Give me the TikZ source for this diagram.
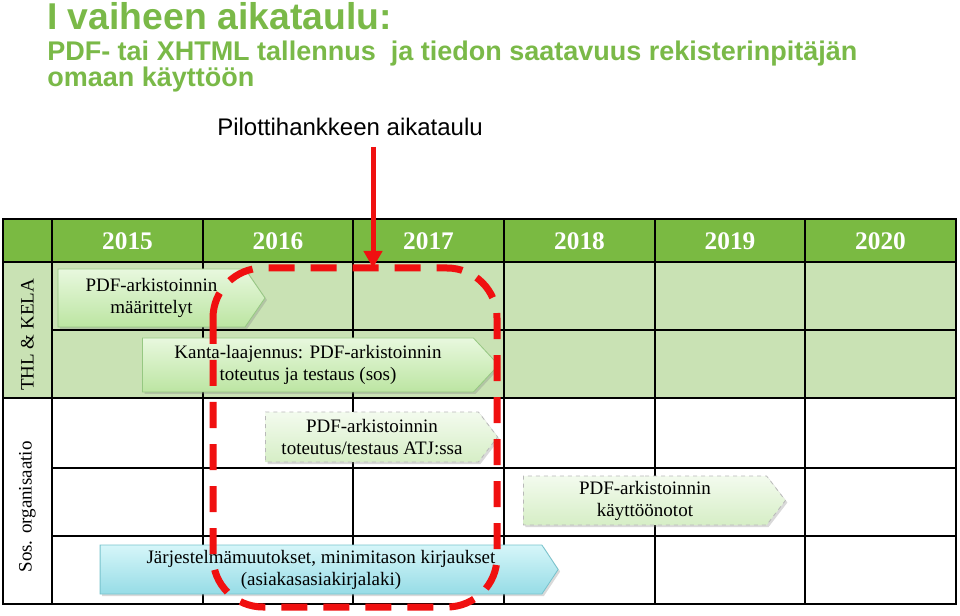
\documentclass[tikz,border=0pt]{standalone}
\usepackage{fontspec}
\setmainfont{Liberation Serif}
\newfontfamily\arialfont{Liberation Sans}
\usetikzlibrary{positioning, shapes.symbols, shadows, arrows.meta}

\newlength{\px}\setlength{\px}{0.75pt}
\definecolor{hdrgreen}{RGB}{122,186,66}
\definecolor{rowgreen}{RGB}{201,226,180}
\definecolor{titlegreen}{RGB}{122,185,72}
\definecolor{tasktop}{RGB}{232,248,222}
\definecolor{taskbot}{RGB}{188,229,162}
\definecolor{taskedge}{RGB}{150,200,130}
\definecolor{plantop}{RGB}{243,251,238}
\definecolor{planbot}{RGB}{214,238,198}
\definecolor{planedge}{RGB}{185,185,185}
\definecolor{lawtop}{RGB}{214,246,249}
\definecolor{lawbot}{RGB}{150,220,230}
\definecolor{lawedge}{RGB}{120,195,205}
\definecolor{pilotred}{RGB}{240,16,16}

\begin{document}
\begin{tikzpicture}[x=\px, y=-\px,
      grid/.style={line width=1.5\px, draw=black},
      yearhdr/.style={font=\fontsize{19}{21}\selectfont\bfseries, text=white},
      lane/.style={rotate=90, font=\fontsize{14.25}{16}\selectfont},
      task/.style={signal, signal to=east, signal from=nowhere, signal pointer angle=105,
        align=center, inner sep=1pt, font=\fontsize{14.25}{16.5}\selectfont,
        draw=taskedge, line width=0.6pt, top color=tasktop, bottom color=taskbot,
        drop shadow={shadow xshift=1.5pt, shadow yshift=-1.5pt, opacity=0.3}},
      plan/.style={task, dashed, draw=planedge, top color=plantop, bottom color=planbot},
      law/.style={task, draw=lawedge, top color=lawtop, bottom color=lawbot},
      redbox/.style={draw=pilotred, line width=7\px, dash pattern=on 26\px off 16\px, rounded corners=50\px}]

      \useasboundingbox (0,0) rectangle (960,616);

      % titles
      \node[anchor=base west, inner sep=0pt, text=titlegreen, font=\arialfont\bfseries\fontsize{28}{30}\selectfont] (title) at (47,30) {I vaiheen aikataulu:};
      \node[anchor=base west, inner sep=0pt, text=titlegreen, font=\arialfont\bfseries\fontsize{20.25}{20}\selectfont] (sub1) at (47,61) {PDF- tai XHTML tallennus \ ja tiedon saatavuus rekisterinpitäjän};
      \node[anchor=base west, inner sep=0pt, text=titlegreen, font=\arialfont\bfseries\fontsize{20.25}{20}\selectfont] (sub2) at (47,87) {omaan käyttöön};
      \node[anchor=base west, inner sep=0pt, font=\arialfont\fontsize{18}{20}\selectfont] (pilot) at (217,136) {Pilottihankkeen aikataulu};

      % table
      \fill[hdrgreen] (3,219) rectangle (956,262);
      \fill[rowgreen] (3,262) rectangle (956,398);
      \draw[grid] (3,219) rectangle (956,604);
      \draw[grid] (3,262) -- (956,262);
      \draw[grid] (3,398) -- (956,398);
      \draw[grid] (52,330) -- (956,330);
      \draw[grid] (52,468) -- (956,468);
      \draw[grid] (52,536) -- (956,536);
      \foreach \c in {52,203,353,504,655,805}
        \draw[grid] (\c,219) -- (\c,604);

      \node[yearhdr] (y2015) at (127.5,241) {2015};
      \node[yearhdr] (y2016) at (278,241) {2016};
      \node[yearhdr] (y2017) at (428.5,241) {2017};
      \node[yearhdr] (y2018) at (579.5,241) {2018};
      \node[yearhdr] (y2019) at (730,241) {2019};
      \node[yearhdr] (y2020) at (880.5,241) {2020};

      \node[lane] (thl) at (27.5,335) {THL \& KELA};
      \node[lane] (sos) at (27.5,507) {Sos. organisaatio};

      % tasks
      \node[task, minimum width=207\px, minimum height=58\px, signal pointer angle=111] (spec) at (151.5,298) {PDF-arkistoinnin\\määrittelyt};
      \node[task, minimum width=356\px, minimum height=54\px, signal pointer angle=94] (kanta) at (308,365) {Kanta-laajennus: PDF-arkistoinnin\\toteutus ja testaus (sos)};
      \node[plan, minimum width=232\px, minimum height=50\px] (atj) at (372,437) {PDF-arkistoinnin\\toteutus/testaus ATJ:ssa};
      \node[plan, minimum width=262\px, minimum height=49\px] (deploy) at (645,500.5) {PDF-arkistoinnin\\käyttöönotot};
      \node[law, minimum width=458\px, minimum height=49\px, signal pointer angle=113] (system) at (321,569.5) {Järjestelmämuutokset, minimitason kirjaukset\\(asiakasasiakirjalaki)};

      % pilot frame
      \draw[redbox] (213,268) rectangle (497,607);
      \coordinate (pilottop) at (373,147);
      \coordinate (pilottip) at (373,268);
      \draw[pilotred, line width=5\px, -{Triangle[width=13.5pt, length=12.75pt]}] (pilottop) -- (pilottip);
\end{tikzpicture}
\end{document}
